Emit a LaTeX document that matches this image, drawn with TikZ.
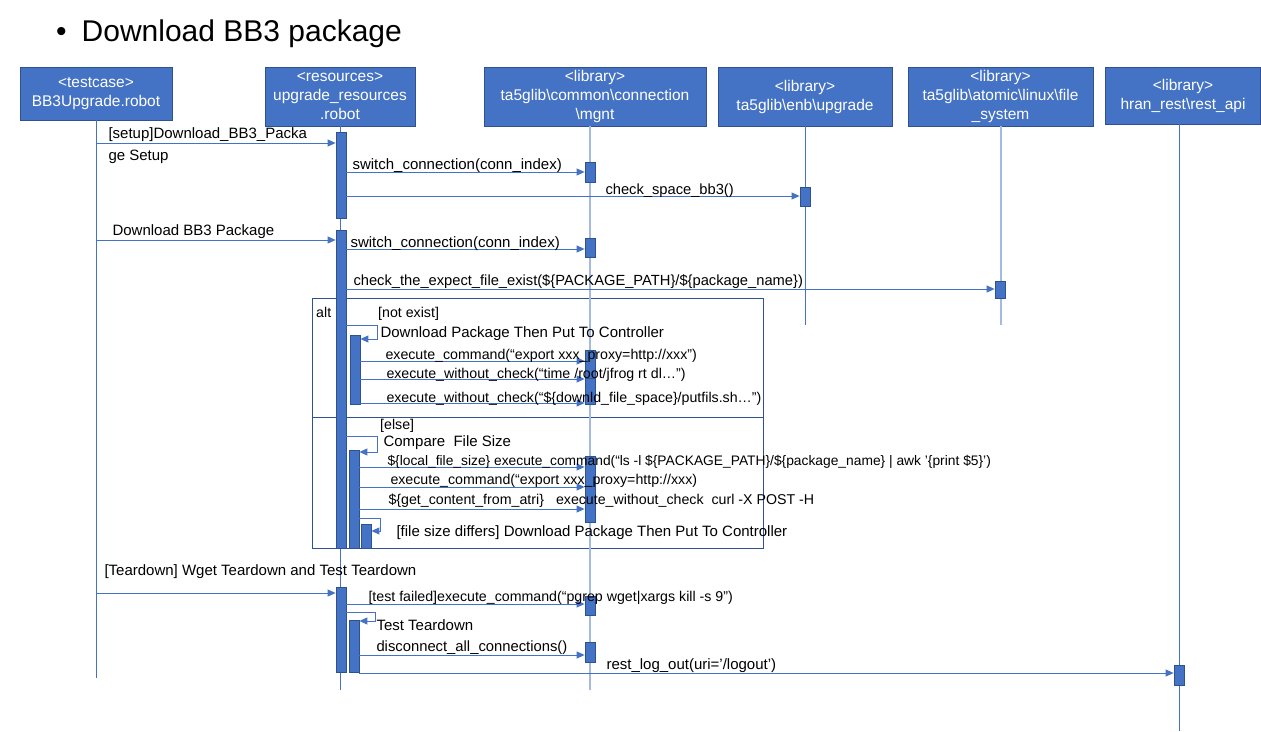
\documentclass[tikz,border=0pt]{standalone}
\usepackage{fontspec}
\setmainfont{Liberation Sans}
\usetikzlibrary{arrows.meta, positioning}
\definecolor{Office}{HTML}{4472C4}
\definecolor{OfficeDark}{HTML}{2F528F}
\definecolor{LightLine}{HTML}{A4B9E3}

\begin{document}
\begin{tikzpicture}[x=1pt, y=-1pt,
  hdr/.style={draw=OfficeDark, fill=Office, text=white, align=center,
     font=\fontsize{15.5}{19}\selectfont, inner sep=0pt, line width=0.8pt},
  life/.style={draw=Office, line width=1pt},
  lifelt/.style={draw=LightLine, line width=2pt},
  act/.style={draw=OfficeDark, fill=Office, minimum width=10pt,
     inner sep=0pt, line width=0.8pt},
  msg/.style={draw=Office, line width=1pt, -{Triangle[length=8pt, width=7pt]}},
  lbl/.style={font=\fontsize{15}{22}\selectfont, anchor=base west,
     inner sep=0pt, align=left},
  lblalt/.style={lbl, font=\fontsize{14.2}{22}\selectfont},
  frame/.style={draw=OfficeDark, line width=0.8pt}]
  \fill[white] (0,0) rectangle (1261,731);
  \useasboundingbox (0,0) rectangle (1261,731);
  \node[anchor=base west, inner sep=0pt, font=\fontsize{30}{36}\selectfont] (title)
        at (56,41) {\textbullet\hspace{15pt}Download BB3 package};

  \node[hdr, minimum width=152, minimum height=53] (tc) at (96,93.5)
        {<testcase>\\BB3Upgrade.robot};
  \node[hdr, minimum width=150, minimum height=59] (res) at (340,96.5)
        {<resources>\\upgrade\_resources\\.robot};
  \node[hdr, minimum width=222, minimum height=59] (mgnt) at (595,96.5)
        {<library>\\ta5glib\textbackslash{}common\textbackslash{}connection\\\textbackslash{}mgnt};
  \node[hdr, minimum width=174, minimum height=59] (upg) at (805,96.5)
        {<library>\\ta5glib\textbackslash{}enb\textbackslash{}upgrade};
  \node[hdr, minimum width=185, minimum height=59] (fs) at (1000.5,96.5)
        {<library>\\ta5glib\textbackslash{}atomic\textbackslash{}linux\textbackslash{}file\\\_system};
  \node[hdr, minimum width=155, minimum height=57] (rest) at (1183,95.5)
        {<library>\\hran\_rest\textbackslash{}rest\_api};

  \node[frame, anchor=north west, minimum width=451, minimum height=250] (alt) at (312,298) {};
  \draw[frame] (alt.west |- 0,417) -- (alt.east |- 0,417);

  \draw[life] (tc.south) -- ++(0,558);
  \draw[life] (res.south) -- ++(0,564);
  \draw[lifelt] ([xshift=-5pt]mgnt.south) -- ++(0,564);
  \draw[life] (upg.south) -- ++(0,199);
  \draw[lifelt] (fs.south) -- ++(0,199);
  \draw[life] ([xshift=-4pt]rest.south) -- ++(0,607);

  \node[act, minimum height=86] (r1) at (341,175) {};
  \node[act, minimum height=318] (r2) at (341,389) {};
  \node[act, minimum height=85] (r3) at (341,629.5) {};
  \node[act, minimum height=69] (n1) at (355,369.5) {};
  \node[act, minimum height=98] (n2) at (354,499) {};
  \node[act, minimum height=24] (n3) at (366,536) {};
  \node[act, minimum height=52] (n4) at (354,646) {};
  \node[act, minimum height=20] (m1) at (590,172) {};
  \node[act, minimum height=19] (m2) at (590,247.5) {};
  \node[act, minimum height=28] (m3) at (590,364) {};
  \node[act, minimum height=26] (m4) at (590,391) {};
  \node[act, minimum height=66] (m5) at (590,489) {};
  \node[act, minimum height=19] (m6) at (590,605.5) {};
  \node[act, minimum height=20] (m7) at (590,652) {};
  \node[act, minimum height=19] (u1) at (805,196.5) {};
  \node[act, minimum height=17] (f1) at (1000,289.5) {};
  \node[act, minimum height=20] (a1) at (1179,675) {};

  \draw[msg] (tc.south |- 0,143) -- (r1.west |- 0,143)
        node[lbl] (t1) at (108,160) {[setup]Download\_BB3\_Packa\\ge Setup};
  \draw[msg] (r1.east |- 0,172) -- (m1.west |- 0,172)
        node[lbl] (t2) at (352,169) {switch\_connection(conn\_index)};
  \draw[msg] (r1.east |- 0,196) -- (u1.west |- 0,196)
        node[lbl, font=\fontsize{14.7}{18}\selectfont] (t3) at (605,194) {check\_space\_bb3()};
  \draw[msg] (tc.south |- 0,240) -- (r2.west |- 0,240)
        node[lbl] (t4) at (112,235) {Download BB3 Package};
  \draw[msg] (r2.east |- 0,249) -- (m2.west |- 0,249)
        node[lbl] (t5) at (350,247) {switch\_connection(conn\_index)};
  \draw[msg] (r2.east |- 0,289) -- (f1.west |- 0,289)
        node[lbl, font=\fontsize{14.7}{18}\selectfont] (t6) at (353,285) {check\_the\_expect\_file\_exist(\$\{PACKAGE\_PATH\}/\$\{package\_name\})};

  \node[lblalt] (altl) at (316,317) {alt};
  \node[lblalt] (g1) at (378,317) {[not exist]};
  \draw[msg] (r2.east |- 0,325) -- (377,325) |- (n1.east |- 0,339)
        node[lbl] (t7) at (380,337) {Download Package Then Put To Controller};
  \draw[msg] (n1.east |- 0,361) -- (m3.west |- 0,361)
        node[lblalt] (t8) at (385,359) {execute\_command(“export xxx\_proxy=http://xxx”)};
  \draw[msg] (n1.east |- 0,379) -- (m4.west |- 0,379)
        node[lblalt] (t9) at (386,378) {execute\_without\_check(“time /root/jfrog rt dl…”)};
  \draw[msg] (n1.east |- 0,403) -- (m4.west |- 0,403)
        node[lblalt] (t10) at (386,402) {execute\_without\_check(“\$\{downld\_file\_space\}/putfils.sh…”)};

  \node[lblalt] (g2) at (380,429) {[else]};
  \draw[msg] (r2.east |- 0,436) -- (377,436) |- (n2.east |- 0,452)
        node[lbl] (t11) at (383,446) {Compare\ \ File Size};
  \draw[msg] (n2.east |- 0,467) -- (m5.west |- 0,467)
        node[lblalt, font=\fontsize{13.8}{18}\selectfont] (t12) at (387,465) {\$\{local\_file\_size\} execute\_command(“ls -l \$\{PACKAGE\_PATH\}/\$\{package\_name\} | awk '\{print \$5\}')};
  \draw[msg] (n2.east |- 0,487) -- (m5.west |- 0,487)
        node[lblalt] (t13) at (390,484) {execute\_command(“export xxx\_proxy=http://xxx)};
  \draw[msg] (n2.east |- 0,509) -- (m5.west |- 0,509)
        node[lblalt] (t14) at (388,504) {\$\{get\_content\_from\_atri\}\hspace{12pt}execute\_without\_check\hspace{8pt}curl -X POST -H};
  \draw[msg] (n2.east |- 0,518) -- (380,518) |- (n3.east |- 0,531)
        node[lbl] (t15) at (396,536) {[file size differs] Download Package Then Put To Controller};

  \draw[msg] (tc.south |- 0,593) -- (r3.west |- 0,593)
        node[lbl] (t16) at (104,575) {[Teardown] Wget Teardown and Test Teardown};
  \draw[msg] (r3.east |- 0,604) -- (m6.west |- 0,604)
        node[lblalt] (t17) at (368,601) {[test failed]execute\_command(“pgrep wget|xargs kill -s 9”)};
  \draw[msg] (r3.east |- 0,612) -- (375,612) |- (n4.east |- 0,621)
        node[lbl] (t18) at (376,630) {Test Teardown};
  \draw[msg] (n4.east |- 0,655) -- (m7.west |- 0,655)
        node[lbl, font=\fontsize{14.8}{18}\selectfont] (t19) at (376,651) {disconnect\_all\_connections()};
  \draw[msg] (n4.east |- 0,673) -- (a1.west |- 0,673)
        node[lbl] (t20) at (606,669) {rest\_log\_out(uri='/logout')};
\end{tikzpicture}
\end{document}
